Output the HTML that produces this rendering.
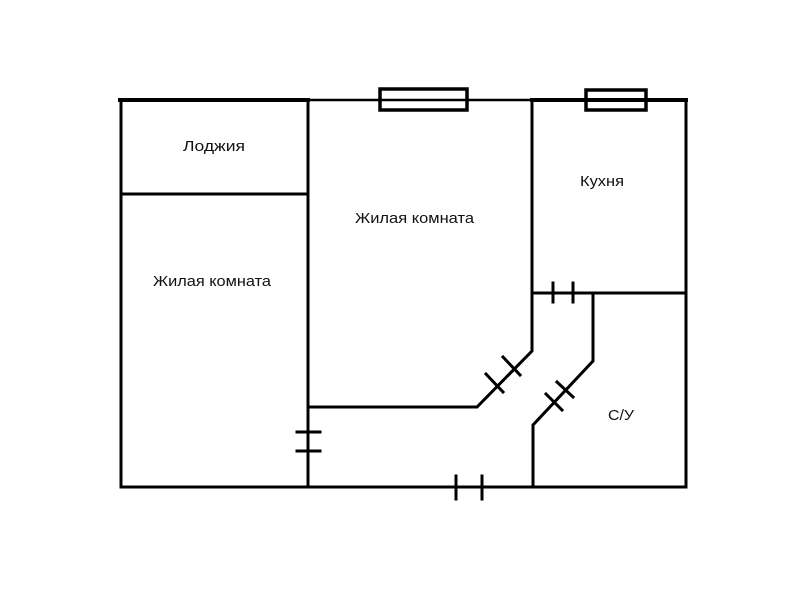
<!DOCTYPE html>
<html><head><meta charset="utf-8"><style>html,body{margin:0;padding:0;background:#fff}</style></head>
<body>
<svg width="800" height="600" viewBox="0 0 800 600" xmlns="http://www.w3.org/2000/svg">
<rect width="800" height="600" fill="#fff"/>
<g stroke="#000" fill="none" stroke-width="3" stroke-linecap="square">
<line x1="120" y1="100" x2="308" y2="100" stroke-width="4"/>
<line x1="308" y1="100" x2="532" y2="100" stroke-width="2.5"/>
<line x1="532" y1="100" x2="686" y2="100" stroke-width="4"/>
<line x1="121" y1="100" x2="121" y2="487"/>
<line x1="686" y1="100" x2="686" y2="487"/>
<line x1="121" y1="487" x2="686" y2="487"/>
<line x1="121" y1="194" x2="308" y2="194"/>
<line x1="308" y1="100" x2="308" y2="487"/>
<polyline points="532,100 532,351 477,407 309,407"/>
<line x1="532" y1="293" x2="686" y2="293"/>
<polyline points="593,293 593,361 533,425 533,487"/>
<rect x="380" y="89" width="87" height="21" stroke-width="3.5"/>
<rect x="586" y="90" width="60" height="20" stroke-width="3.5"/>
<line x1="553" y1="283" x2="553" y2="302"/>
<line x1="573" y1="283" x2="573" y2="302"/>
<line x1="297" y1="432" x2="320" y2="432"/>
<line x1="297" y1="451" x2="320" y2="451"/>
<line x1="456" y1="476" x2="456" y2="499"/>
<line x1="482" y1="476" x2="482" y2="499"/>
<line x1="486" y1="374" x2="503" y2="392"/>
<line x1="503" y1="357" x2="520" y2="375"/>
<line x1="546" y1="394" x2="562" y2="410"/>
<line x1="557" y1="382" x2="573" y2="397"/>
</g>
<g font-family="'Liberation Sans', 'Noto Sans CJK SC', sans-serif" font-size="15" fill="#111">
<text x="183" y="151" textLength="62" lengthAdjust="spacingAndGlyphs">Лоджия</text>
<text x="355" y="223" textLength="119" lengthAdjust="spacingAndGlyphs">Жилая комната</text>
<text x="153" y="286" textLength="118" lengthAdjust="spacingAndGlyphs">Жилая комната</text>
<text x="580" y="186" textLength="44" lengthAdjust="spacingAndGlyphs">Кухня</text>
<text x="608" y="420" textLength="26" lengthAdjust="spacingAndGlyphs">С/У</text>
</g>
</svg>
</body></html>
